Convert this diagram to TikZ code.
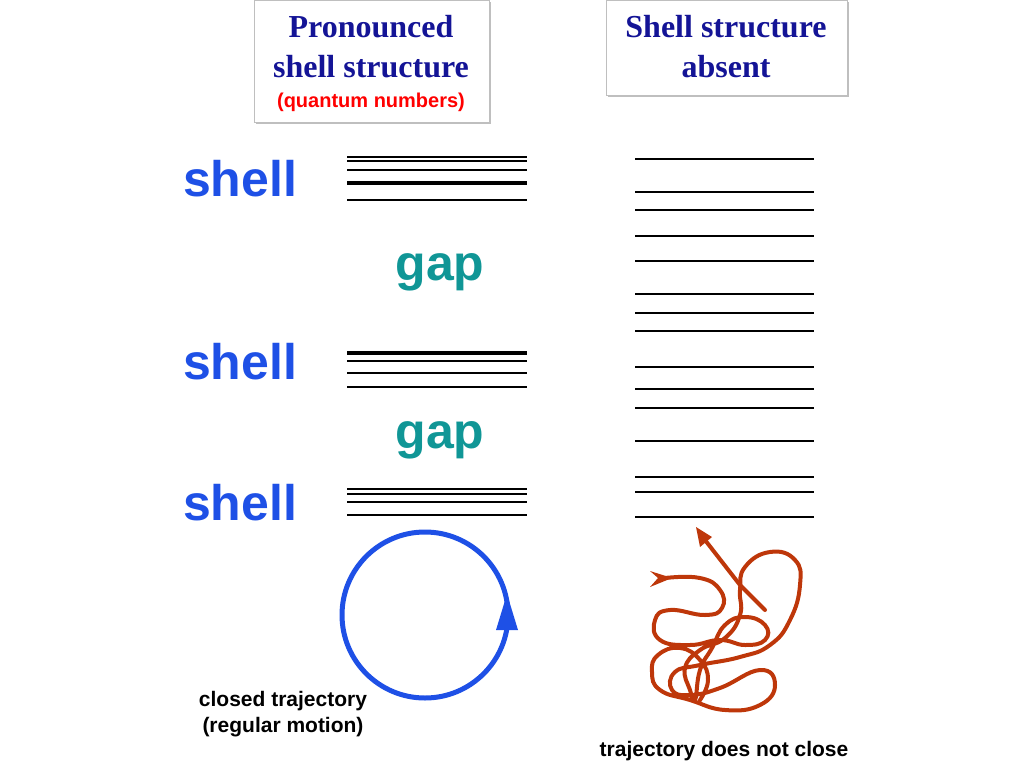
\documentclass[tikz,border=0pt]{standalone}
\usepackage{fontspec}
\setmainfont{Liberation Serif}
\setsansfont{Liberation Sans}
\usetikzlibrary{arrows.meta,shadows}
\definecolor{ttl}{RGB}{20,20,150}
\definecolor{shb}{RGB}{30,80,230}
\definecolor{gapc}{RGB}{16,150,150}
\definecolor{rust}{RGB}{190,55,10}
\tikzset{
 titlebox/.style={draw=black!25,fill=white,line width=0.8pt,drop shadow={shadow xshift=2pt,shadow yshift=-2pt,opacity=0.5},align=center,inner sep=0pt},
 shelltxt/.style={font=\sffamily\bfseries\fontsize{50}{55}\selectfont,text=shb,inner sep=0pt},
 gaptxt/.style={font=\sffamily\bfseries\fontsize{50}{55}\selectfont,text=gapc,inner sep=0pt},
 lev/.style={line width=2.5pt},
 thicklev/.style={line width=4pt},
 lbl/.style={font=\sffamily\bfseries\fontsize{21}{26}\selectfont,align=center,inner sep=0pt}
}
\begin{document}
\begin{tikzpicture}[x=1pt,y=-1pt]
\useasboundingbox (0,0) rectangle (1024,768);
\node[titlebox,minimum width=235pt,minimum height=122pt] (b1) at (371.5,61) {};
\node[titlebox,minimum width=241pt,minimum height=95pt] (b2) at (726.5,47.5) {};
\node[font=\bfseries\fontsize{32}{40}\selectfont,text=ttl,align=center] (t1) at (371,47) {Pronounced\\shell structure};
\node[font=\sffamily\bfseries\fontsize{20}{24}\selectfont,text=red] (q) at (371,102) {(quantum numbers)};
\node[font=\bfseries\fontsize{32}{40}\selectfont,text=ttl,align=center] (t2) at (726,47) {Shell structure\\absent};
\node[shelltxt] (s1) at (240,179) {shell};
\node[shelltxt] (s2) at (240,362) {shell};
\node[shelltxt] (s3) at (240,503) {shell};
\node[gaptxt] (g1) at (440,272) {gap};
\node[gaptxt] (g2) at (440,440) {gap};
\foreach \y in {157,161,170,200,361,373,387,489,494,502,515} \draw[lev] (347,\y) -- (527,\y);
\foreach \y in {183,353} \draw[thicklev] (347,\y) -- (527,\y);
\foreach \y in {159,192,210,236,261,294,313,331,367,389,408,441,477,492,517} \draw[lev] (635,\y) -- (814,\y);
\node[circle,draw=shb,line width=5pt,minimum size=166pt,inner sep=0pt] (c) at (425,615) {};
\fill[shb] (507,594) -- (518,630) -- (496,630) -- cycle;
\node[lbl] (l1) at (283,714) {closed trajectory\\(regular motion)};
\node[lbl] (l2) at (724,751) {trajectory does not close};
\draw[rust,line width=4pt,line cap=round,line join=round] plot[smooth,tension=0.8] coordinates {
 (665,578) (700,578) (720,590) (722,608) (705,615) (670,610) (655,620) (660,640) (690,645) (720,640) (745,645) (765,640)
 (765,625) (745,617) (725,625) (712,648) (700,670) (695,700) (690,690) (685,668) (700,650) (725,638) (740,615) (740,590)
 (745,567) (770,552) (795,560) (800,585) (790,620) (770,645) (740,657) (700,665) (675,672) (672,690) (690,695) (720,688)
 (760,670) (775,685) (760,705) (725,710) (690,700) (660,690) (652,672) (658,655) (680,648) (700,660) (708,680) (700,700)};
\draw[rust,line width=4pt,line cap=round] (765,610) -- (740,585) -- (705,540);
\fill[rust] (696,527) -- (712,537) -- (700,547) -- cycle;
\fill[rust] (672,578) -- (650,571) -- (658,578) -- (650,587) -- cycle;
\end{tikzpicture}
\end{document}
